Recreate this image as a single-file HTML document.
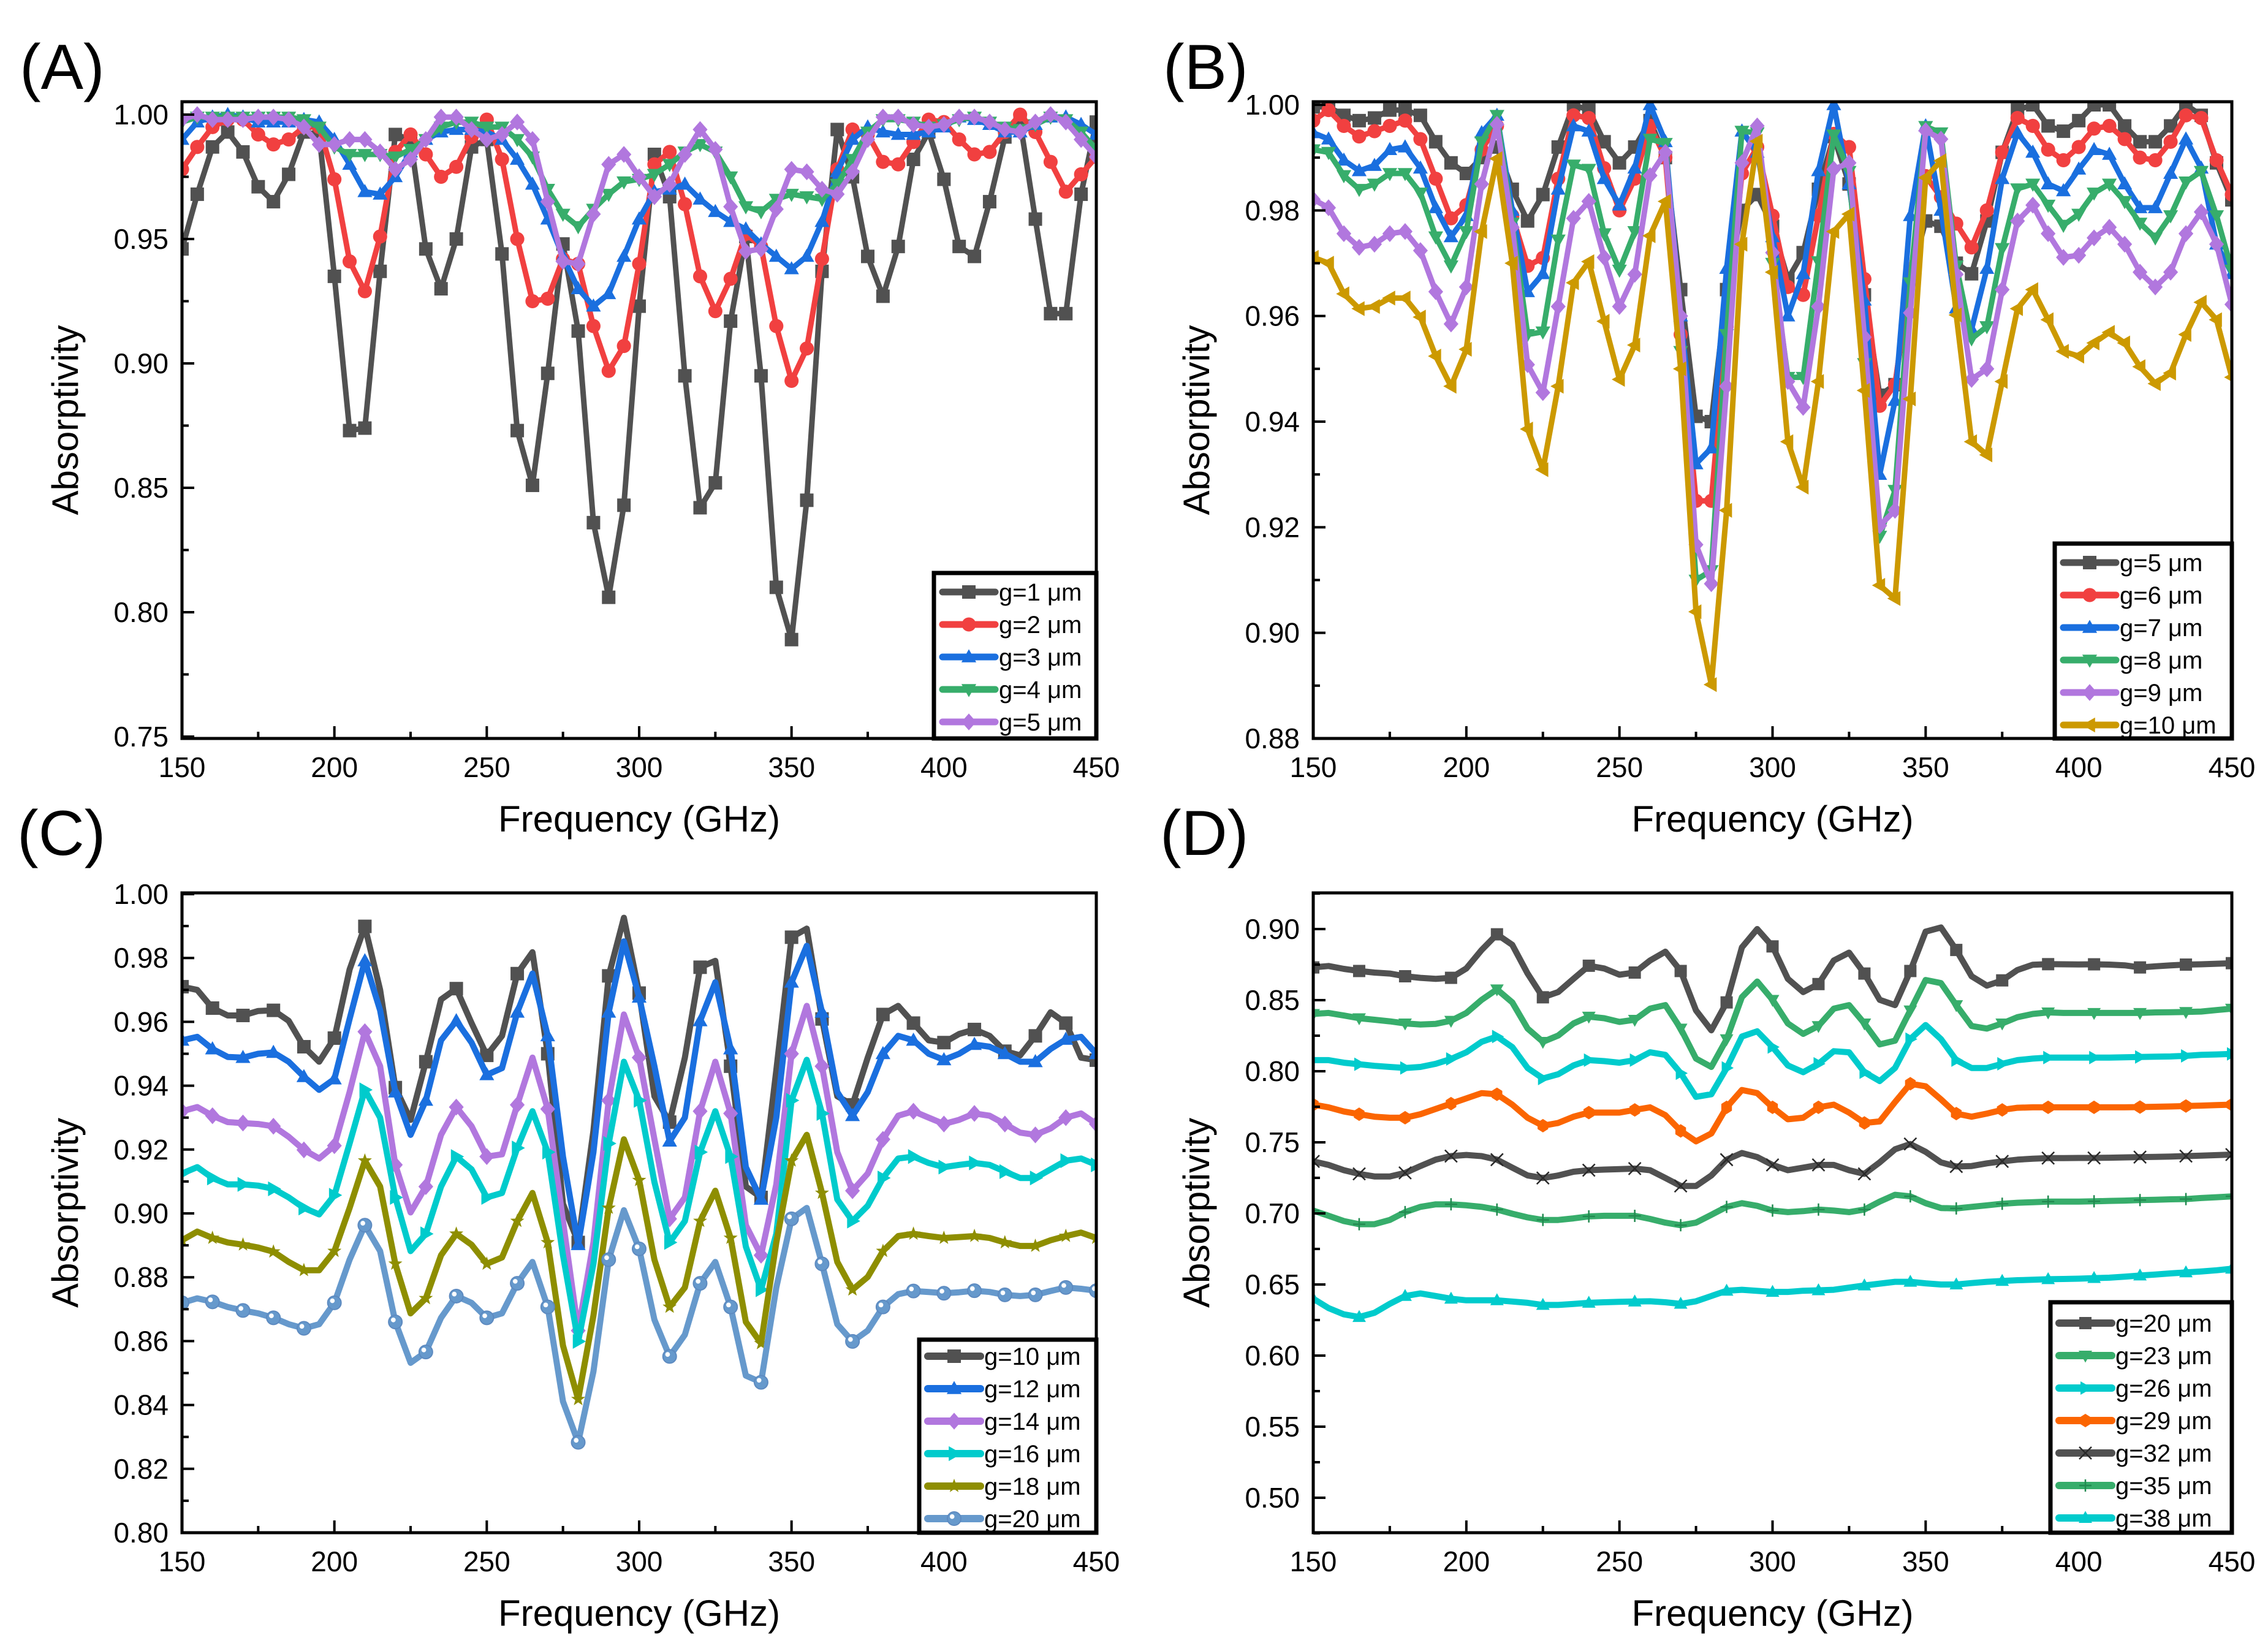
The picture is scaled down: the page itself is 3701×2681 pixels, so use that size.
<!DOCTYPE html>
<html><head><meta charset="utf-8"><style>
html,body{margin:0;padding:0;background:#fff}
svg{display:block}
text{font-family:"Liberation Sans",Arial,sans-serif;fill:#000}
</style></head><body>
<svg id="fig" xmlns="http://www.w3.org/2000/svg" width="3701" height="2681" viewBox="0 0 3701 2681"></svg>
<script>
// ---------- DATA ----------
const freqs = [];
for (let f = 150; f <= 450; f += 5) freqs.push(f);

const xTicks = [150, 200, 250, 300, 350, 400, 450];
const yTicksA = [0.75, 0.80, 0.85, 0.90, 0.95, 1.00];
const yTicksB = [0.88, 0.90, 0.92, 0.94, 0.96, 0.98, 1.00];
const yTicksC = [0.80, 0.82, 0.84, 0.86, 0.88, 0.90, 0.92, 0.94, 0.96, 0.98, 1.00];
const yTicksD = [0.50, 0.55, 0.60, 0.65, 0.70, 0.75, 0.80, 0.85, 0.90];

const labelsA = ["g=1 μm","g=2 μm","g=3 μm","g=4 μm","g=5 μm"];
const labelsB = ["g=5 μm","g=6 μm","g=7 μm","g=8 μm","g=9 μm","g=10 μm"];
const labelsC = ["g=10 μm","g=12 μm","g=14 μm","g=16 μm","g=18 μm","g=20 μm"];
const labelsD = ["g=20 μm","g=23 μm","g=26 μm","g=29 μm","g=32 μm","g=35 μm","g=38 μm"];

// Panel A
const a_g1 = [0.946,0.968,0.987,0.993,0.985,0.971,0.965,0.976,0.993,0.992,0.935,0.873,0.874,0.937,0.992,0.990,0.946,0.930,0.950,0.987,0.990,0.944,0.873,0.851,0.896,0.948,0.913,0.836,0.806,0.843,0.923,0.984,0.967,0.895,0.842,0.852,0.917,0.951,0.895,0.810,0.789,0.845,0.937,0.994,0.975,0.943,0.927,0.947,0.982,0.993,0.974,0.947,0.943,0.965,0.991,0.997,0.958,0.920,0.920,0.968,0.997];
const a_g2 = [0.978,0.987,0.995,0.998,0.998,0.992,0.988,0.990,0.995,0.995,0.974,0.941,0.929,0.951,0.985,0.992,0.984,0.975,0.979,0.991,0.998,0.982,0.950,0.925,0.926,0.942,0.940,0.915,0.897,0.907,0.940,0.980,0.985,0.964,0.935,0.921,0.934,0.952,0.947,0.915,0.893,0.906,0.942,0.978,0.994,0.992,0.981,0.980,0.989,0.998,0.997,0.990,0.984,0.985,0.993,1.000,0.993,0.981,0.969,0.976,0.983];
const a_g3 = [0.990,0.997,0.999,1.000,0.999,0.997,0.997,0.997,0.998,0.997,0.990,0.980,0.969,0.968,0.975,0.985,0.990,0.993,0.994,0.994,0.993,0.990,0.982,0.972,0.958,0.943,0.930,0.923,0.928,0.943,0.958,0.969,0.970,0.972,0.966,0.961,0.957,0.954,0.948,0.943,0.938,0.943,0.957,0.977,0.990,0.995,0.993,0.992,0.992,0.993,0.995,0.999,0.998,0.996,0.993,0.993,0.996,0.999,0.999,0.996,0.992];
const a_g4 = [0.997,0.999,0.999,0.999,0.999,0.999,0.999,0.999,0.998,0.995,0.987,0.984,0.984,0.984,0.983,0.986,0.990,0.995,0.997,0.997,0.995,0.995,0.990,0.983,0.970,0.960,0.955,0.962,0.968,0.973,0.974,0.976,0.980,0.985,0.988,0.985,0.975,0.963,0.961,0.966,0.968,0.967,0.966,0.972,0.982,0.993,0.998,0.998,0.997,0.995,0.996,0.998,0.999,0.997,0.995,0.994,0.996,0.999,0.998,0.993,0.986];
const a_g5 = [0.998,1.000,0.998,0.998,0.998,0.999,0.999,0.998,0.995,0.988,0.988,0.990,0.990,0.985,0.978,0.982,0.990,0.999,0.999,0.994,0.990,0.992,0.997,0.990,0.965,0.941,0.940,0.960,0.980,0.984,0.975,0.967,0.972,0.984,0.994,0.986,0.963,0.945,0.946,0.962,0.978,0.977,0.970,0.968,0.977,0.990,0.999,0.999,0.996,0.995,0.996,0.999,0.999,0.997,0.994,0.993,0.997,1.000,0.997,0.990,0.983];

// Panel B
const b_g5 = [0.9996,0.9996,0.998,0.997,0.9975,0.999,0.999,0.998,0.993,0.989,0.987,0.990,0.992,0.984,0.978,0.983,0.992,1.000,0.999,0.993,0.989,0.992,0.997,0.990,0.965,0.941,0.940,0.965,0.980,0.983,0.977,0.967,0.972,0.984,0.994,0.985,0.964,0.945,0.947,0.967,0.978,0.977,0.970,0.968,0.978,0.991,0.999,1.000,0.996,0.995,0.997,1.000,1.000,0.996,0.993,0.993,0.996,1.000,0.998,0.989,0.982];
const b_g6 = [0.997,0.999,0.996,0.994,0.995,0.996,0.997,0.9935,0.986,0.9785,0.981,0.9915,0.996,0.979,0.9695,0.971,0.986,0.998,0.9975,0.988,0.980,0.986,0.996,0.990,0.9565,0.925,0.925,0.958,0.987,0.992,0.979,0.9655,0.964,0.979,0.9945,0.992,0.967,0.943,0.947,0.968,0.9865,0.9825,0.9775,0.973,0.980,0.991,0.9975,0.996,0.9915,0.9895,0.992,0.9955,0.996,0.9935,0.990,0.9895,0.993,0.998,0.9975,0.9895,0.983];
const b_g7 = [0.9947,0.9935,0.9895,0.9875,0.9885,0.9915,0.992,0.988,0.9805,0.975,0.979,0.9947,0.998,0.980,0.9646,0.968,0.984,0.996,0.995,0.986,0.981,0.988,1.000,0.993,0.960,0.932,0.935,0.969,0.995,0.991,0.975,0.960,0.968,0.9875,1.000,0.985,0.963,0.930,0.944,0.979,0.996,0.980,0.9615,0.9575,0.969,0.986,0.9947,0.991,0.985,0.9837,0.9878,0.9915,0.9906,0.985,0.9805,0.9805,0.987,0.9935,0.988,0.9736,0.968];
const b_g8 = [0.9915,0.991,0.9866,0.984,0.985,0.987,0.987,0.9833,0.975,0.9695,0.976,0.993,0.998,0.9776,0.9565,0.957,0.9744,0.9886,0.9878,0.9756,0.9687,0.976,0.9935,0.9927,0.9533,0.910,0.9118,0.9565,0.995,0.9947,0.970,0.9484,0.9484,0.9703,0.9943,0.9874,0.951,0.9183,0.927,0.9663,0.9959,0.9947,0.9695,0.9557,0.958,0.9728,0.9841,0.985,0.981,0.9772,0.9793,0.9833,0.985,0.9817,0.9776,0.9748,0.979,0.9854,0.9874,0.979,0.9687];
const b_g9 = [0.9821,0.9805,0.9756,0.973,0.9736,0.9756,0.976,0.9724,0.9646,0.9585,0.9655,0.985,0.9963,0.9768,0.9508,0.9455,0.9618,0.9785,0.9817,0.9711,0.9618,0.9679,0.9866,0.991,0.960,0.9167,0.9093,0.9467,0.989,0.996,0.972,0.9476,0.9427,0.9618,0.9878,0.989,0.956,0.9203,0.9232,0.9606,0.9951,0.9935,0.9679,0.948,0.950,0.965,0.978,0.981,0.9756,0.9711,0.9715,0.9748,0.9768,0.9736,0.9683,0.9655,0.9683,0.9756,0.9797,0.9736,0.9622];
const b_g10 = [0.9711,0.970,0.9642,0.9614,0.9618,0.9634,0.9634,0.9598,0.9524,0.9467,0.9537,0.976,0.9898,0.970,0.9386,0.9309,0.9467,0.9663,0.9703,0.959,0.948,0.9545,0.9752,0.9817,0.950,0.904,0.8902,0.9232,0.9736,0.9931,0.9683,0.9362,0.9276,0.9476,0.976,0.9793,0.9459,0.909,0.9065,0.9443,0.9862,0.9894,0.9602,0.9362,0.9337,0.9476,0.9614,0.965,0.9593,0.9533,0.9524,0.9549,0.9569,0.9549,0.9504,0.9472,0.9492,0.9565,0.9626,0.9593,0.9484];

// Panel C
const c_g10 = [0.971,0.970,0.9643,0.962,0.962,0.9634,0.9636,0.9603,0.9522,0.9475,0.9549,0.9764,0.9899,0.970,0.9394,0.9293,0.9475,0.967,0.9704,0.9596,0.9495,0.9556,0.9751,0.9818,0.950,0.903,0.8909,0.9259,0.9744,0.9926,0.969,0.9367,0.9286,0.9488,0.9771,0.9791,0.9461,0.9084,0.905,0.9448,0.9865,0.9892,0.9609,0.9367,0.934,0.9488,0.9623,0.965,0.9596,0.9542,0.9535,0.9562,0.9576,0.9556,0.9508,0.9495,0.9556,0.963,0.9596,0.9488,0.948];
const c_g12 = [0.9542,0.9553,0.9515,0.949,0.9488,0.950,0.9504,0.9475,0.9428,0.9387,0.9421,0.9609,0.9791,0.9636,0.938,0.9246,0.9354,0.9542,0.9603,0.9535,0.9434,0.9455,0.963,0.9751,0.9556,0.9178,0.8902,0.9192,0.963,0.9852,0.9677,0.9461,0.9226,0.930,0.9603,0.9724,0.9515,0.9145,0.9044,0.930,0.9724,0.9838,0.963,0.938,0.9306,0.938,0.950,0.9556,0.9542,0.950,0.9481,0.950,0.9529,0.9522,0.950,0.9475,0.9475,0.9515,0.9545,0.9553,0.950];
const c_g14 = [0.932,0.9333,0.9306,0.9286,0.9283,0.928,0.9273,0.924,0.9199,0.9172,0.9212,0.938,0.9569,0.9461,0.9152,0.9003,0.9084,0.9246,0.9333,0.9273,0.9178,0.9185,0.934,0.9488,0.9327,0.8976,0.8633,0.8909,0.9354,0.9623,0.9488,0.9232,0.8983,0.905,0.932,0.9475,0.9313,0.8963,0.8869,0.9091,0.950,0.965,0.9461,0.9192,0.9071,0.9125,0.9232,0.9306,0.932,0.930,0.928,0.9293,0.9313,0.9306,0.928,0.9253,0.9246,0.9266,0.930,0.9313,0.928];
const c_g16 = [0.9125,0.9145,0.9111,0.9091,0.9091,0.9087,0.9077,0.905,0.9017,0.8997,0.9057,0.9219,0.9387,0.930,0.905,0.8882,0.8936,0.9084,0.9178,0.9138,0.905,0.9064,0.9205,0.932,0.9192,0.8869,0.8599,0.8842,0.9219,0.9475,0.9354,0.9098,0.8909,0.8976,0.9192,0.932,0.9178,0.8896,0.8761,0.8936,0.9354,0.9481,0.9313,0.9044,0.8976,0.9024,0.9111,0.9172,0.9178,0.9158,0.9145,0.9152,0.9158,0.9152,0.9131,0.9111,0.9111,0.9138,0.9165,0.9172,0.9152];
const c_g18 = [0.8916,0.8943,0.8923,0.8909,0.8902,0.8893,0.888,0.8848,0.8822,0.8822,0.8882,0.9017,0.9165,0.9084,0.8842,0.8687,0.8734,0.8869,0.8936,0.8902,0.8842,0.8862,0.8976,0.9064,0.8909,0.8586,0.8418,0.868,0.9017,0.9232,0.9104,0.8855,0.8707,0.8768,0.8976,0.9071,0.8923,0.866,0.8593,0.8909,0.9165,0.9246,0.9064,0.8848,0.8761,0.8801,0.8882,0.8929,0.8936,0.8929,0.8923,0.8926,0.8929,0.8923,0.8909,0.8898,0.8898,0.8916,0.8929,0.894,0.8923];
const c_g20 = [0.872,0.8734,0.8723,0.8707,0.8696,0.8687,0.8673,0.8653,0.864,0.8653,0.872,0.8855,0.8963,0.8882,0.866,0.8532,0.8566,0.8673,0.8741,0.872,0.8673,0.8687,0.8781,0.8848,0.8707,0.8411,0.8283,0.8505,0.8855,0.901,0.8889,0.8667,0.8552,0.862,0.8781,0.8848,0.8707,0.8492,0.8471,0.8768,0.8983,0.9017,0.8842,0.8653,0.8599,0.8633,0.8707,0.8747,0.8757,0.8754,0.875,0.8753,0.8758,0.8754,0.8745,0.8741,0.8745,0.8757,0.8768,0.8764,0.8758];

// Panel D
const d_g20 = [0.873,0.874,0.872,0.8705,0.8694,0.8687,0.8668,0.8657,0.865,0.8657,0.8723,0.8853,0.8963,0.8889,0.8687,0.852,0.8557,0.865,0.8742,0.8723,0.8679,0.8694,0.8779,0.8841,0.8705,0.8428,0.8288,0.8484,0.8871,0.900,0.8878,0.865,0.8557,0.8613,0.8779,0.8834,0.8687,0.8502,0.8465,0.8705,0.8982,0.9011,0.8853,0.8668,0.8602,0.8639,0.8712,0.8749,0.8753,0.8752,0.8751,0.8752,0.875,0.8745,0.873,0.8738,0.8745,0.875,0.8752,0.8756,0.876];
const d_g23 = [0.8403,0.841,0.8392,0.8373,0.8362,0.8351,0.8336,0.8329,0.8333,0.8355,0.841,0.8502,0.8576,0.8484,0.830,0.8207,0.8251,0.8336,0.8384,0.8373,0.8347,0.8362,0.844,0.8465,0.830,0.8089,0.803,0.8225,0.8521,0.8631,0.8502,0.8336,0.8263,0.8318,0.844,0.8465,0.8336,0.8189,0.8215,0.8428,0.8642,0.862,0.8465,0.8318,0.830,0.8336,0.838,0.8403,0.8414,0.841,0.841,0.841,0.841,0.841,0.841,0.8414,0.8415,0.8417,0.842,0.843,0.844];
const d_g26 = [0.8078,0.8078,0.806,0.8049,0.8038,0.803,0.8023,0.803,0.8052,0.8086,0.8133,0.8207,0.8244,0.817,0.8023,0.7949,0.7979,0.8041,0.8078,0.8071,0.806,0.8078,0.8133,0.8115,0.7986,0.782,0.7838,0.8023,0.8244,0.8281,0.817,0.8041,0.7993,0.8052,0.8141,0.8133,0.7993,0.7931,0.8023,0.8226,0.8325,0.8226,0.8078,0.8023,0.8023,0.8052,0.8078,0.8089,0.8096,0.8096,0.8096,0.8096,0.8096,0.8098,0.810,0.8102,0.8104,0.8108,0.8115,0.8118,0.8122];
const d_g29 = [0.7765,0.7746,0.7717,0.7698,0.768,0.7673,0.7673,0.7698,0.7735,0.7772,0.7809,0.7846,0.7838,0.7765,0.7673,0.7617,0.7636,0.768,0.7709,0.7709,0.7709,0.7728,0.7746,0.7691,0.758,0.7507,0.7562,0.7746,0.7868,0.7846,0.7746,0.7662,0.7673,0.7746,0.7765,0.7709,0.7636,0.7647,0.7783,0.7912,0.7894,0.7802,0.7702,0.768,0.7702,0.7728,0.7743,0.7746,0.7746,0.7746,0.7746,0.7746,0.7746,0.7746,0.7748,0.775,0.7752,0.7755,0.7758,0.7762,0.7765];
const d_g32 = [0.7366,0.7341,0.7304,0.7278,0.726,0.726,0.7285,0.7333,0.7378,0.7403,0.7411,0.7403,0.7378,0.7322,0.7267,0.7249,0.7267,0.7293,0.7304,0.7308,0.7311,0.7315,0.7304,0.7249,0.7193,0.7193,0.7267,0.7378,0.7425,0.7396,0.7341,0.7304,0.7322,0.7341,0.7341,0.7304,0.7278,0.7359,0.7451,0.7488,0.7433,0.7359,0.733,0.7333,0.7352,0.7366,0.7378,0.7385,0.7389,0.7389,0.739,0.739,0.7392,0.7394,0.7396,0.7398,0.740,0.7403,0.7406,0.741,0.7414];
const d_g35 = [0.702,0.6983,0.6946,0.6924,0.6924,0.6954,0.7009,0.7046,0.7064,0.7064,0.7057,0.7046,0.7027,0.6998,0.6972,0.6954,0.6954,0.6965,0.6979,0.6983,0.6983,0.6983,0.6961,0.6935,0.6917,0.6935,0.699,0.7046,0.7072,0.7053,0.702,0.7009,0.7016,0.7027,0.702,0.7009,0.7027,0.7083,0.7131,0.712,0.7072,0.7038,0.7035,0.7046,0.7057,0.7068,0.7075,0.7079,0.7083,0.7083,0.7083,0.7085,0.7088,0.709,0.7094,0.7096,0.7099,0.7101,0.7108,0.7114,0.712];
const d_g38 = [0.640,0.6334,0.629,0.6271,0.6301,0.6364,0.6419,0.6437,0.6419,0.640,0.6389,0.6389,0.6389,0.638,0.6371,0.6356,0.6356,0.6363,0.6371,0.6375,0.6378,0.638,0.6382,0.6375,0.6364,0.6382,0.6419,0.6456,0.6463,0.6455,0.6448,0.6448,0.6456,0.6459,0.6463,0.6478,0.6493,0.6506,0.6519,0.6519,0.6508,0.650,0.650,0.651,0.6519,0.6525,0.653,0.6533,0.6537,0.6539,0.6541,0.6545,0.6548,0.6555,0.6563,0.657,0.6578,0.6585,0.6592,0.660,0.6611];

// ---------- DRAWING ----------
const NS = "http://www.w3.org/2000/svg";
const svg = document.getElementById('fig');
function mk(tag, attrs, parent) {
  const e = document.createElementNS(NS, tag);
  for (const k in attrs) e.setAttribute(k, attrs[k]);
  (parent || svg).appendChild(e);
  return e;
}
function txt(str, x, y, size, anchor, parent) {
  const t = mk('text', {x: x, y: y, 'font-size': size, 'text-anchor': anchor || 'middle'}, parent);
  t.textContent = str;
  return t;
}

function marker(g, type, x, y, color, s) {
  let e;
  const h = s / 2;
  if (type === 'square') e = mk('rect', {x: x - h, y: y - h, width: s, height: s, fill: color}, g);
  else if (type === 'circle') e = mk('circle', {cx: x, cy: y, r: h * 1.05, fill: color}, g);
  else if (type === 'sphere') {
    e = mk('circle', {cx: x, cy: y, r: h, fill: color, stroke: '#5d8ac0', 'stroke-width': 2}, g);
    mk('circle', {cx: x - h * 0.3, cy: y - h * 0.3, r: h * 0.35, fill: '#ffffff'}, g);
  }
  else if (type === 'up') e = mk('polygon', {points: `${x},${y - h * 1.15} ${x - h * 1.1},${y + h * 0.8} ${x + h * 1.1},${y + h * 0.8}`, fill: color}, g);
  else if (type === 'down') e = mk('polygon', {points: `${x},${y + h * 1.15} ${x - h * 1.1},${y - h * 0.8} ${x + h * 1.1},${y - h * 0.8}`, fill: color}, g);
  else if (type === 'left') e = mk('polygon', {points: `${x - h * 1.15},${y} ${x + h * 0.8},${y - h * 1.1} ${x + h * 0.8},${y + h * 1.1}`, fill: color}, g);
  else if (type === 'right') e = mk('polygon', {points: `${x + h * 1.15},${y} ${x - h * 0.8},${y - h * 1.1} ${x - h * 0.8},${y + h * 1.1}`, fill: color}, g);
  else if (type === 'diamond') e = mk('polygon', {points: `${x},${y - h * 1.25} ${x + h * 1.1},${y} ${x},${y + h * 1.25} ${x - h * 1.1},${y}`, fill: color}, g);
  else if (type === 'star') {
    let p = [];
    for (let k = 0; k < 10; k++) {
      const r = k % 2 ? h * 0.45 : h * 1.1;
      const a = -Math.PI / 2 + k * Math.PI / 5;
      p.push((x + r * Math.cos(a)).toFixed(1) + ',' + (y + r * Math.sin(a)).toFixed(1));
    }
    e = mk('polygon', {points: p.join(' '), fill: color}, g);
  }
  else if (type === 'hex') {
    let p = [];
    for (let k = 0; k < 6; k++) {
      const a = -Math.PI / 2 + k * Math.PI / 3;
      p.push((x + h * Math.cos(a)).toFixed(1) + ',' + (y + h * 1.1 * Math.sin(a)).toFixed(1));
    }
    e = mk('polygon', {points: p.join(' '), fill: color}, g);
  }
  else if (type === 'x') e = mk('path', {d: `M${x - h},${y - h}L${x + h},${y + h}M${x - h},${y + h}L${x + h},${y - h}`, stroke: '#2a2a2a', 'stroke-width': 2.5, fill: 'none'}, g);
  else if (type === 'plus') e = mk('path', {d: `M${x - h},${y}L${x + h},${y}M${x},${y - h}L${x},${y + h}`, stroke: '#228a50', 'stroke-width': 2.5, fill: 'none'}, g);
  
  
  return e;
}

function panel(cfg) {
  const g = mk('g', {});
  
  
  const xs = v => cfg.x0 + (v - 150) / 300 * (cfg.x1 - cfg.x0);
  const ys = v => cfg.yA + (v - cfg.vA) * (cfg.yB - cfg.yA) / (cfg.vB - cfg.vA);

  const cid = 'clip-' + cfg.name;
  const cp = mk('clipPath', {id: cid}, g);
  mk('rect', {x: cfg.x0, y: cfg.top, width: cfg.x1 - cfg.x0, height: cfg.bottom - cfg.top}, cp);
  const plot = mk('g', {'clip-path': `url(#${cid})`}, g);
  
  

  cfg.series.forEach((s, si) => {
    const sg = mk('g', {}, plot);
    
    
    const pts = freqs.map((f, i) => xs(f).toFixed(1) + ',' + ys(s.data[i]).toFixed(1)).join(' ');
    const pl = mk('polyline', {points: pts, fill: 'none', stroke: s.color, 'stroke-width': cfg.lw, 'stroke-linejoin': 'round', 'stroke-linecap': 'round'}, sg);
    
    
    freqs.forEach((f, i) => {
      if (i % cfg.mstep === 0) marker(sg, s.marker, xs(f), ys(s.data[i]), s.color, cfg.ms);
    });
  });

  const fr = mk('rect', {x: cfg.x0, y: cfg.top, width: cfg.x1 - cfg.x0, height: cfg.bottom - cfg.top, fill: 'none', stroke: '#000', 'stroke-width': 5}, g);
  
  

  const xg = mk('g', {}, g);
  
  
  for (let v = 150; v <= 450; v += 25) {
    const major = (v % 50 === 0);
    const x = xs(v);
    mk('line', {x1: x, x2: x, y1: cfg.bottom, y2: cfg.bottom - (major ? 20 : 11), stroke: '#000', 'stroke-width': 4}, xg);
  }
  xTicks.forEach(v => {
    const t = txt(String(v), xs(v), cfg.bottom + 63, 46, 'middle', xg);
    
    
  });
  const xt = txt('Frequency (GHz)', (cfg.x0 + cfg.x1) / 2, cfg.bottom + 152, 60, 'middle', xg);
  
  

  const yg = mk('g', {}, g);
  
  
  const yt = cfg.yTicks;
  const step = yt[1] - yt[0];
  for (let k = 0; k < yt.length * 2 + 2; k++) {
    const v = yt[0] - step + k * step / 2;
    const y = ys(v);
    if (y > cfg.bottom + 1 || y < cfg.top - 1) continue;
    const major = k % 2 === 0;
    mk('line', {x1: cfg.x0, x2: cfg.x0 + (major ? 20 : 11), y1: y, y2: y, stroke: '#000', 'stroke-width': 4}, yg);
  }
  yt.forEach(v => {
    const t = txt(v.toFixed(2), cfg.x0 - 22, ys(v) + 16, 46, 'end', yg);
    
    
  });
  const ycx = cfg.x0 - 190, ycy = (cfg.top + cfg.bottom) / 2;
  const ytl = txt('Absorptivity', 0, 0, 60, 'middle', yg);
  ytl.setAttribute('transform', `translate(${ycx + 20},${ycy}) rotate(-90)`);
  
  

  const pl = txt(cfg.tag, cfg.tagX, cfg.tagY, 104, 'start', g);
  
  

  const L = cfg.leg;
  const lg = mk('g', {}, g);
  
  
  mk('rect', {x: L.x0, y: L.y0, width: L.x1 - L.x0, height: L.y1 - L.y0, fill: '#fff', stroke: '#000', 'stroke-width': 7}, lg);
  cfg.series.forEach((s, i) => {
    const eg = mk('g', {}, lg);
    
    
    const y = L.r0 + i * L.dr;
    mk('line', {x1: L.x0 + 14, x2: L.x0 + 100, y1: y, y2: y, stroke: s.color, 'stroke-width': cfg.lw + 2, 'stroke-linecap': 'round'}, eg);
    marker(eg, s.marker, L.x0 + 57, y, s.color, cfg.ms);
    txt(s.label, L.x0 + 106, y + 14, 40, 'start', eg);
  });
}

panel({
  name: 'panel-a', tag: '(A)', tagX: 32, tagY: 145,
  x0: 297, x1: 1789, top: 166, bottom: 1205,
  vA: 1.00, yA: 187, vB: 0.75, yB: 1202, yTicks: yTicksA,
  lw: 9, ms: 22, mstep: 1,
  leg: {x0: 1524, x1: 1789, y0: 935, y1: 1205, r0: 966, dr: 53},
  series: [
    {label: labelsA[0], data: a_g1, color: '#515151', marker: 'square'},
    {label: labelsA[1], data: a_g2, color: '#F14040', marker: 'circle'},
    {label: labelsA[2], data: a_g3, color: '#1A6FDF', marker: 'up'},
    {label: labelsA[3], data: a_g4, color: '#37AD6B', marker: 'down'},
    {label: labelsA[4], data: a_g5, color: '#B177DE', marker: 'diamond'}
  ]
});
panel({
  name: 'panel-b', tag: '(B)', tagX: 1898, tagY: 145,
  x0: 2143, x1: 3642, top: 166, bottom: 1205,
  vA: 1.00, yA: 171, vB: 0.88, yB: 1205, yTicks: yTicksB,
  lw: 9, ms: 22, mstep: 1,
  leg: {x0: 3353, x1: 3642, y0: 887, y1: 1205, r0: 918, dr: 53},
  series: [
    {label: labelsB[0], data: b_g5, color: '#515151', marker: 'square'},
    {label: labelsB[1], data: b_g6, color: '#F14040', marker: 'circle'},
    {label: labelsB[2], data: b_g7, color: '#1A6FDF', marker: 'up'},
    {label: labelsB[3], data: b_g8, color: '#37AD6B', marker: 'down'},
    {label: labelsB[4], data: b_g9, color: '#B177DE', marker: 'diamond'},
    {label: labelsB[5], data: b_g10, color: '#CC9900', marker: 'left'}
  ]
});
panel({
  name: 'panel-c', tag: '(C)', tagX: 28, tagY: 1395,
  x0: 297, x1: 1789, top: 1457, bottom: 2501,
  vA: 1.00, yA: 1459, vB: 0.80, yB: 2501, yTicks: yTicksC,
  lw: 10, ms: 22, mstep: 2,
  leg: {x0: 1500, x1: 1789, y0: 2186, y1: 2501, r0: 2213, dr: 53},
  series: [
    {label: labelsC[0], data: c_g10, color: '#515151', marker: 'square'},
    {label: labelsC[1], data: c_g12, color: '#1A6FDF', marker: 'up'},
    {label: labelsC[2], data: c_g14, color: '#B177DE', marker: 'diamond'},
    {label: labelsC[3], data: c_g16, color: '#00CBCC', marker: 'right'},
    {label: labelsC[4], data: c_g18, color: '#8E8E00', marker: 'star'},
    {label: labelsC[5], data: c_g20, color: '#6699CC', marker: 'sphere'}
  ]
});
panel({
  name: 'panel-d', tag: '(D)', tagX: 1893, tagY: 1395,
  x0: 2143, x1: 3642, top: 1457, bottom: 2501,
  vA: 0.90, yA: 1516, vB: 0.50, yB: 2444, yTicks: yTicksD,
  lw: 10, ms: 20, mstep: 3,
  leg: {x0: 3346, x1: 3642, y0: 2125, y1: 2501, r0: 2159, dr: 53},
  series: [
    {label: labelsD[0], data: d_g20, color: '#515151', marker: 'square'},
    {label: labelsD[1], data: d_g23, color: '#37AD6B', marker: 'down'},
    {label: labelsD[2], data: d_g26, color: '#00CBCC', marker: 'right'},
    {label: labelsD[3], data: d_g29, color: '#FB6501', marker: 'hex'},
    {label: labelsD[4], data: d_g32, color: '#515151', marker: 'x'},
    {label: labelsD[5], data: d_g35, color: '#37AD6B', marker: 'plus'},
    {label: labelsD[6], data: d_g38, color: '#00CBCC', marker: 'up'}
  ]
});
</script>
</body></html>
